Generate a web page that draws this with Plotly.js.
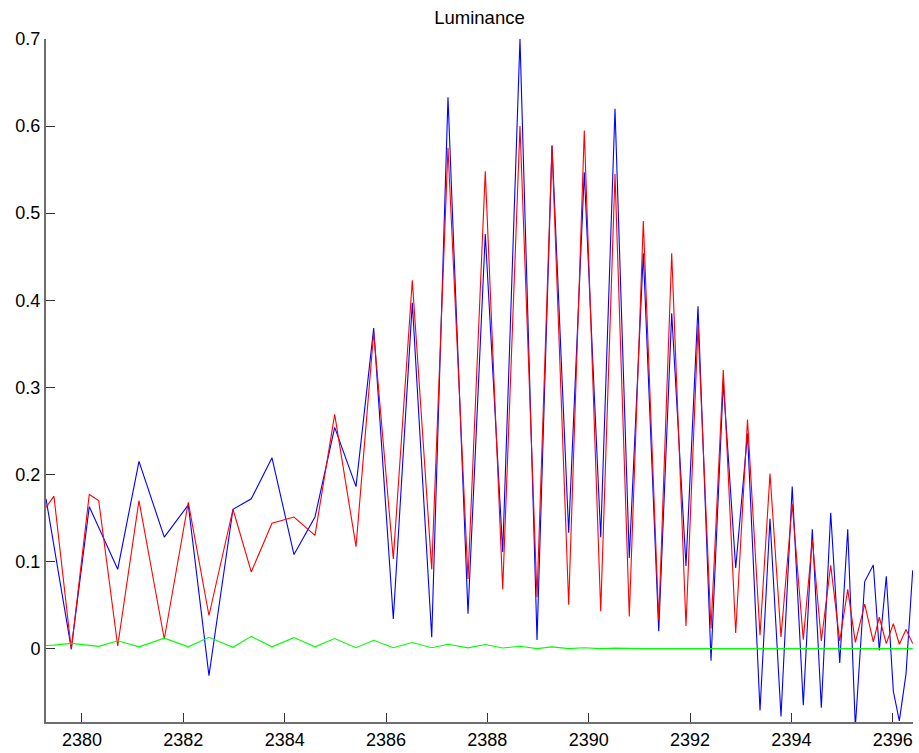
<!DOCTYPE html>
<html>
<head>
<meta charset="utf-8">
<script src="https://cdn.plot.ly/plotly-3.0.1.min.js"></script>
<style>html,body{margin:0;padding:0;background:#fff;}#chart{width:919px;height:753px;}</style>
</head>
<body>
<div id="chart"></div>
<script>
const xValues = [2379.290, 2379.447, 2379.789, 2380.144, 2380.330, 2380.705, 2381.125, 2381.624, 2382.098, 2382.506,
  2382.980, 2383.341, 2383.750, 2384.184, 2384.598, 2384.987, 2385.408, 2385.757, 2386.144, 2386.519,
  2386.902, 2387.223, 2387.618, 2387.959, 2388.303, 2388.644, 2388.980, 2389.276, 2389.605, 2389.913,
  2390.237, 2390.519, 2390.801, 2391.078, 2391.382, 2391.638, 2391.920, 2392.157, 2392.414, 2392.656,
  2392.901, 2393.134, 2393.381, 2393.578, 2393.795, 2394.016, 2394.235, 2394.413, 2394.591, 2394.776,
  2394.954, 2395.112, 2395.262, 2395.447, 2395.617, 2395.735, 2395.873, 2396.012, 2396.130, 2396.262,
  2396.394];
const blueValues = [0.172, 0.118, 0.000, 0.163, 0.139, 0.091, 0.215, 0.128, 0.165, -0.031,
  0.160, 0.172, 0.219, 0.108, 0.151, 0.254, 0.186, 0.368, 0.034, 0.397,
  0.013, 0.633, 0.040, 0.476, 0.111, 0.700, 0.010, 0.578, 0.133, 0.547,
  0.128, 0.620, 0.104, 0.454, 0.020, 0.385, 0.095, 0.393, -0.014, 0.306,
  0.0925, 0.247, -0.071, 0.149, -0.078, 0.186, -0.065, 0.137, -0.068, 0.156,
  -0.0165, 0.137, -0.090, 0.077, 0.096, -0.002, 0.083, -0.049, -0.083, -0.029,
  0.090];
const redValues = [0.162, 0.175, -0.001, 0.177, 0.170, 0.003, 0.170, 0.011, 0.168, 0.038,
  0.160, 0.088, 0.144, 0.151, 0.130, 0.269, 0.117, 0.363, 0.103, 0.423,
  0.091, 0.575, 0.080, 0.548, 0.068, 0.600, 0.059, 0.577, 0.0505, 0.595,
  0.043, 0.545, 0.037, 0.491, 0.032, 0.454, 0.026, 0.370, 0.023, 0.320,
  0.018, 0.263, 0.0153, 0.201, 0.0133, 0.166, 0.0103, 0.125, 0.0087, 0.0956,
  0.0087, 0.068, 0.0072, 0.051, 0.0076, 0.036, 0.0057, 0.0287, 0.005, 0.022,
  0.0057];
const greenValues = [0.0035, 0.004, 0.006, 0.004, 0.0026, 0.009, 0.002, 0.012, 0.002, 0.013,
  0.0015, 0.014, 0.002, 0.0126, 0.002, 0.0115, 0.001, 0.0095, 0.001, 0.007,
  0.001, 0.005, 0.0008, 0.0046, 0.0007, 0.0026, 0.0, 0.002, 0.0, 0.001,
  0.0, 0.0005, 0.0, 0.0, 0.0, 0.0, 0.0, 0.0, 0.0, 0.0,
  0.0, 0.0, 0.0, 0.0, 0.0, 0.0, 0.0, 0.0, 0.0, 0.0,
  0.0, 0.0, 0.0, 0.0, 0.0, 0.0, 0.0, 0.0, 0.0, 0.0,
  0.0];
const xTicks = [2380, 2382, 2384, 2386, 2388, 2390, 2392, 2394, 2396];
const yTicks = [0, 0.1, 0.2, 0.3, 0.4, 0.5, 0.6, 0.7];
const yTickText = ['0', '0.1', '0.2', '0.3', '0.4', '0.5', '0.6', '0.7'];

const font = 'Liberation Sans, Arial, Helvetica, sans-serif';
const traces = [
  {x: xValues, y: blueValues, type: 'scatter', mode: 'lines', line: {color: '#0000ff', width: 1.1}, name: 'blue'},
  {x: xValues, y: redValues, type: 'scatter', mode: 'lines', line: {color: '#ff0000', width: 1.1}, name: 'red'},
  {x: xValues, y: greenValues, type: 'scatter', mode: 'lines', line: {color: '#00ff00', width: 1.1}, name: 'green'}
];
const layout = {
  width: 919, height: 753,
  margin: {l: 46, r: 6, t: 39, b: 31},
  paper_bgcolor: '#ffffff', plot_bgcolor: '#ffffff',
  showlegend: false,
  font: {family: font, size: 18, color: '#000'},
  title: {text: 'Luminance', font: {family: font, size: 18.5, color: '#000'}, x: 0.5, xref: 'paper', y: 0.977, yref: 'container', yanchor: 'middle'},
  xaxis: {
    range: [2379.29, 2396.40], tickmode: 'array', tickvals: xTicks, ticktext: xTicks.map(String),
    ticks: 'inside', ticklen: 9, tickwidth: 1, tickcolor: '#333',
    showline: true, linecolor: '#6e6e6e', linewidth: 2, showgrid: false, zeroline: false,
    tickfont: {family: font, size: 18, color: '#000'}
  },
  yaxis: {
    range: [-0.0843, 0.7], tickmode: 'array', tickvals: yTicks, ticktext: yTickText,
    ticks: 'inside', ticklen: 9, tickwidth: 1, tickcolor: '#333',
    showline: true, linecolor: '#6e6e6e', linewidth: 2, showgrid: false, zeroline: false,
    tickfont: {family: font, size: 18, color: '#000'}
  }
};
Plotly.newPlot('chart', traces, layout, {staticPlot: true, displayModeBar: false});
</script>
</body>
</html>
